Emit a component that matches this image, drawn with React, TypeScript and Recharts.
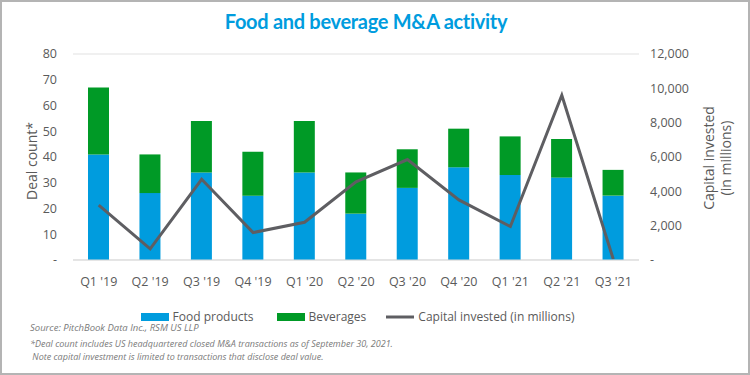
import React from 'react';
import { ComposedChart, Bar, Line, XAxis, YAxis, CartesianGrid } from 'recharts';

const quarters = ["Q1 '19", "Q2 '19", "Q3 '19", "Q4 '19", "Q1 '20", "Q2 '20", "Q3 '20", "Q4 '20", "Q1 '21", "Q2 '21", "Q3 '21"];
const foodProducts = [41, 26, 34, 25, 34, 18, 28, 36, 33, 32, 25];
const beverages = [26, 15, 20, 17, 20, 16, 15, 15, 15, 15, 10];
const capitalInvested = [3200, 650, 4700, 1600, 2200, 4550, 5850, 3500, 1950, 9600, 50];
const leftTicks = [0, 10, 20, 30, 40, 50, 60, 70, 80];
const rightTicks = [0, 2000, 4000, 6000, 8000, 10000, 12000];
const legendLabels = ['Food products', 'Beverages', 'Capital invested (in millions)'];

const data = quarters.map((q, i) => ({
  quarter: q,
  food: foodProducts[i],
  bev: beverages[i],
  capital: capitalInvested[i],
}));

const BLUE = '#009CDE';
const GREEN = '#009A26';
const GRAY_LINE = '#5E5E62';
const TEXT = '#5a5a5a';
const FONT = '"Open Sans", "Noto Sans", sans-serif';

const fmt = (v: number) => (v === 0 ? '-' : v.toLocaleString('en-US'));

const ChartLegend = () => {
  const items = [
    { label: legendLabels[0], color: BLUE, type: 'rect' },
    { label: legendLabels[1], color: GREEN, type: 'rect' },
    { label: legendLabels[2], color: GRAY_LINE, type: 'line' },
  ];
  return (
    <div style={{ position: 'absolute', left: 0, top: 308, width: 714, display: 'flex', justifyContent: 'center', alignItems: 'center', fontFamily: FONT, fontSize: 12, color: TEXT }}>
      {items.map((it, i) => (
        <div key={i} style={{ display: 'flex', alignItems: 'center', marginRight: i === 0 ? 22 : i === 1 ? 19 : 0 }}>
          <svg width={30} height={10} style={{ marginRight: 3 }}>
            {it.type === 'rect' ? (
              <rect x={1} y={1} width={28} height={8} fill={it.color} />
            ) : (
              <line x1={1} y1={5} x2={29} y2={5} stroke={it.color} strokeWidth={3} />
            )}
          </svg>
          <span>{it.label}</span>
        </div>
      ))}
    </div>
  );
};

const LeftLabel = () => (
  <text x={31} y={161} transform="rotate(-90 31 161)" textAnchor="middle" dominantBaseline="central" fill={TEXT} fontSize={14} fontFamily={FONT}>
    Deal count*
  </text>
);

const RightLabel = () => (
  <g>
    <text x={708} y={158} transform="rotate(-90 708 158)" textAnchor="middle" dominantBaseline="central" fill={TEXT} fontSize={14} fontFamily={FONT}>
      Capital invested
    </text>
    <text x={725} y={158} transform="rotate(-90 725 158)" textAnchor="middle" dominantBaseline="central" fill={TEXT} fontSize={14} fontFamily={FONT}>
      (in millions)
    </text>
  </g>
);

export default function App() {
  return (
    <div style={{ position: 'absolute', left: 0, top: 0, width: 750, height: 375, background: '#fff', overflow: 'hidden' }}>
      <div style={{ position: 'absolute', left: 0, top: 0, width: 746, height: 371, border: '2px solid #b4b4b4' }} />
      <div style={{ position: 'absolute', left: 0, top: 9, width: 732, textAlign: 'center', fontFamily: 'Lato, "Open Sans", sans-serif', fontWeight: 700, fontSize: 20, color: BLUE, letterSpacing: -0.3 }}>
        Food and beverage M&amp;A activity
      </div>
      <div style={{ position: 'absolute', left: 0, top: 0 }}>
        <ComposedChart width={750} height={375} data={data} margin={{ top: 54, right: 95, bottom: 85, left: 0 }}>
          <CartesianGrid vertical={false} stroke="#e2e2e2" strokeWidth={1.2} />
          <XAxis
            dataKey="quarter"
            height={30}
            tickLine={false}
            axisLine={{ stroke: '#d9d9d9' }}
            tick={{ fill: TEXT, fontSize: 12.5, fontFamily: FONT }}
            tickMargin={11}
            interval={0}
          />
          <YAxis
            yAxisId="left"
            orientation="left"
            width={73}
            domain={[0, 80]}
            ticks={leftTicks}
            tickFormatter={fmt}
            tickLine={false}
            axisLine={false}
            tickMargin={10}
            tick={{ fill: TEXT, fontSize: 12.5, fontFamily: FONT }}
            label={<LeftLabel />}
          />
          <YAxis
            yAxisId="right"
            orientation="right"
            width={16}
            domain={[0, 12000]}
            ticks={rightTicks}
            tickFormatter={fmt}
            tickLine={false}
            axisLine={false}
            tickMargin={5}
            tick={{ fill: TEXT, fontSize: 12.5, fontFamily: FONT, textAnchor: 'start' }}
            label={<RightLabel />}
          />
          <Bar yAxisId="left" dataKey="food" name={legendLabels[0]} stackId="a" fill={BLUE} barSize={21} isAnimationActive={false} />
          <Bar yAxisId="left" dataKey="bev" name={legendLabels[1]} stackId="a" fill={GREEN} barSize={21} isAnimationActive={false} />
          <Line yAxisId="right" dataKey="capital" name={legendLabels[2]} type="linear" stroke={GRAY_LINE} strokeWidth={3} dot={false} activeDot={false} isAnimationActive={false} />
        </ComposedChart>
      </div>
      <ChartLegend />
      <div style={{ position: 'absolute', left: 30, top: 321, fontFamily: FONT, fontStyle: 'italic', fontSize: 9.5, color: '#7a7a7a', lineHeight: '14px' }}>
        Source: PitchBook Data Inc., RSM US LLP
      </div>
      <div style={{ position: 'absolute', left: 30, top: 338, fontFamily: FONT, fontStyle: 'italic', fontSize: 9, color: '#7a7a7a', lineHeight: '12.5px', whiteSpace: 'pre' }}>
        {'*Deal count includes US headquartered closed M&A transactions as of September 30, 2021.\n Note capital investment is limited to transactions that disclose deal value.'}
      </div>
    </div>
  );
}
